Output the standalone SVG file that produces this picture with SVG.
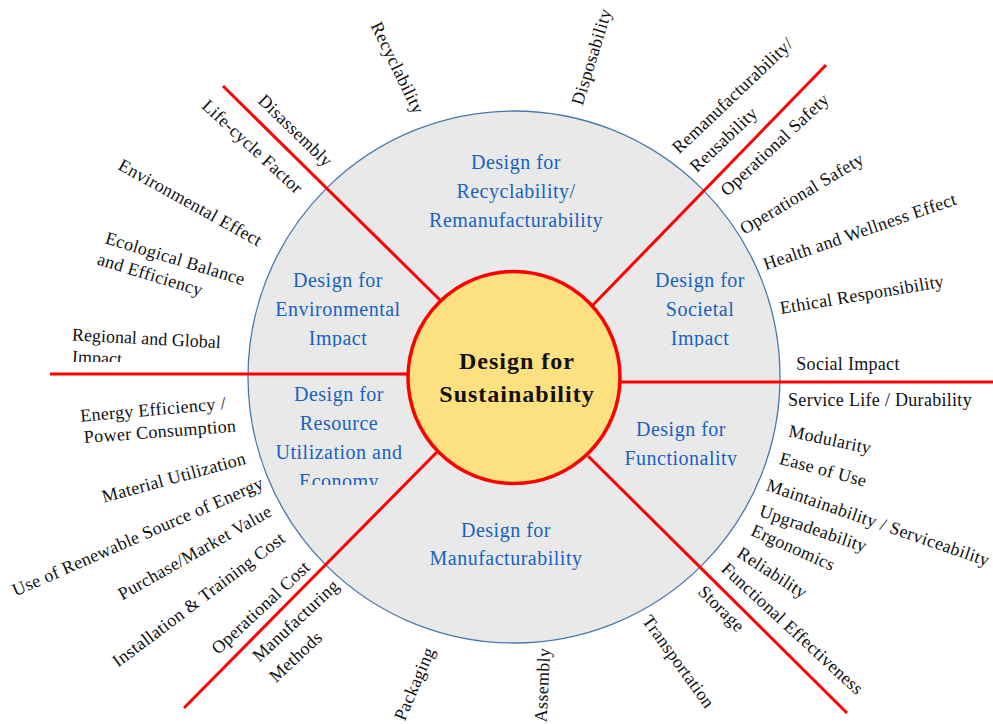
<svg xmlns="http://www.w3.org/2000/svg" width="993" height="724" viewBox="0 0 993 724">
<style>
.sec{font-family:"Liberation Serif","Times New Roman",serif;font-size:20px;letter-spacing:0.5px;fill:#1762c2;text-anchor:middle}
.hub{font-family:"Liberation Serif","Times New Roman",serif;font-size:24px;font-weight:bold;letter-spacing:1px;fill:#111;text-anchor:middle}
.lb{font-family:"Liberation Serif","Times New Roman",serif;font-size:18px;letter-spacing:0.3px;fill:#111;text-anchor:middle}
.st{text-anchor:start}
.red{stroke:#ff0000;stroke-width:3;fill:none;stroke-linecap:butt}
</style>
<defs>
<clipPath id="cEnv"><rect x="240" y="240" width="200" height="107"/></clipPath>
<clipPath id="cSoc"><rect x="600" y="240" width="200" height="107"/></clipPath>
<clipPath id="cRes"><rect x="240" y="370" width="200" height="115"/></clipPath>
<clipPath id="cFun"><rect x="600" y="400" width="200" height="66"/></clipPath>
<clipPath id="cReg"><rect x="40" y="300" width="220" height="62"/></clipPath>
</defs>
<rect width="993" height="724" fill="#ffffff"/>
<g id="ring"><circle cx="514" cy="377" r="266" fill="#e9e9e9" stroke="#4a78ad" stroke-width="1.3"/></g>
<g id="connectors">
<line class="red" x1="50" y1="374" x2="410" y2="374"/>
<line class="red" x1="618" y1="382" x2="993" y2="382"/>
<line class="red" x1="223" y1="86" x2="441" y2="301"/>
<line class="red" x1="826" y1="65" x2="592" y2="306"/>
<line class="red" x1="184" y1="708" x2="437" y2="452"/>
<line class="red" x1="588" y1="456" x2="847" y2="713"/>
</g>
<g id="hub">
<circle cx="514" cy="377.5" r="106" fill="#fde07f" stroke="#ff0000" stroke-width="3.5"/>
<text class="hub" x="517" y="369">Design for</text>
<text class="hub" x="517" y="402">Sustainability</text>
</g>
<g id="sec-recyclability">
<text class="sec" x="516" y="169">Design for</text>
<text class="sec" x="516" y="198">Recyclability/</text>
<text class="sec" x="516" y="227">Remanufacturability</text>
</g>
<g id="sec-environmental" clip-path="url(#cEnv)">
<text class="sec" x="338" y="287">Design for</text>
<text class="sec" x="338" y="316">Environmental</text>
<text class="sec" x="338" y="345">Impact</text>
</g>
<g id="sec-societal" clip-path="url(#cSoc)">
<text class="sec" x="700" y="287">Design for</text>
<text class="sec" x="700" y="316">Societal</text>
<text class="sec" x="700" y="345">Impact</text>
</g>
<g id="sec-resource" clip-path="url(#cRes)">
<text class="sec" x="339" y="401">Design for</text>
<text class="sec" x="339" y="430">Resource</text>
<text class="sec" x="339" y="459">Utilization and</text>
<text class="sec" x="339" y="488">Economy</text>
</g>
<g id="sec-functionality" clip-path="url(#cFun)">
<text class="sec" x="681" y="436">Design for</text>
<text class="sec" x="681" y="465">Functionality</text>
</g>
<g id="sec-manufacturability">
<text class="sec" x="506" y="537">Design for</text>
<text class="sec" x="506" y="565">Manufacturability</text>
</g>
<g id="labels">
<text class="lb" dy="0.3em" transform="translate(397,68) rotate(64)">Recyclability</text>
<text class="lb" dy="0.3em" transform="translate(592,57) rotate(-73)">Disposability</text>
<text class="lb" dy="0.3em" transform="translate(733,96) rotate(-43.5)">Remanufacturability/</text>
<text class="lb" dy="0.3em" transform="translate(724,140) rotate(-43.5)">Reusability</text>
<text class="lb" dy="0.3em" transform="translate(775,145) rotate(-43)">Operational Safety</text>
<text class="lb" dy="0.3em" transform="translate(802,194) rotate(-31)">Operational Safety</text>
<text class="lb" dy="0.3em" transform="translate(860,232) rotate(-19)">Health and Wellness Effect</text>
<text class="lb" dy="0.3em" transform="translate(862,295) rotate(-9.5)">Ethical Responsibility</text>
<text class="lb" dy="0.3em" transform="translate(848,365)">Social Impact</text>
<text class="lb" dy="0.3em" transform="translate(880,401)">Service Life / Durability</text>
<text class="lb" dy="0.3em" transform="translate(830,440) rotate(12)">Modularity</text>
<text class="lb" dy="0.3em" transform="translate(823,470) rotate(15)">Ease of Use</text>
<text class="lb st" dy="0.3em" transform="translate(767,485) rotate(19)">Maintainability / Serviceability</text>
<text class="lb" dy="0.3em" transform="translate(813,529) rotate(19)">Upgradeability</text>
<text class="lb" dy="0.3em" transform="translate(793,548) rotate(24)">Ergonomics</text>
<text class="lb" dy="0.3em" transform="translate(772,573) rotate(33)">Reliability</text>
<text class="lb" dy="0.3em" transform="translate(792,629) rotate(42.6)">Functional Effectiveness</text>
<text class="lb" dy="0.3em" transform="translate(721,609) rotate(45)">Storage</text>
<text class="lb" dy="0.3em" transform="translate(678,662) rotate(54)">Transportation</text>
<text class="lb" dy="0.3em" transform="translate(543,685) rotate(-87)">Assembly</text>
<text class="lb" dy="0.3em" transform="translate(415,684) rotate(-67)">Packaging</text>
<text class="lb" dy="0.3em" transform="translate(296,621) rotate(-43)">Manufacturing</text>
<text class="lb" dy="0.3em" transform="translate(296,657) rotate(-43)">Methods</text>
<text class="lb" dy="0.3em" transform="translate(261,608) rotate(-43)">Operational Cost</text>
<text class="lb" dy="0.3em" transform="translate(199,600) rotate(-37)">Installation &amp; Training Cost</text>
<text class="lb" dy="0.3em" transform="translate(195,553) rotate(-29.5)">Purchase/Market Value</text>
<text class="lb" dy="0.3em" transform="translate(138,537) rotate(-23.6)">Use of Renewable Source of Energy</text>
<text class="lb" dy="0.3em" transform="translate(174,478) rotate(-15.3)">Material Utilization</text>
<text class="lb" dy="0.3em" transform="translate(153,410) rotate(-5)">Energy Efficiency /</text>
<text class="lb" dy="0.3em" transform="translate(160,432) rotate(-4.3)">Power Consumption</text>
<g clip-path="url(#cReg)">
<text class="lb st" dy="0.3em" style="letter-spacing:0" transform="translate(72,335) rotate(3)">Regional and Global</text>
<text class="lb st" dy="0.3em" style="letter-spacing:0" transform="translate(72,357) rotate(3)">Impact</text>
</g>
<text class="lb" dy="0.3em" transform="translate(175,259) rotate(17)">Ecological Balance</text>
<text class="lb" dy="0.3em" transform="translate(150,275) rotate(17)">and Efficiency</text>
<text class="lb" dy="0.3em" transform="translate(190,203) rotate(29)">Environmental Effect</text>
<text class="lb" dy="0.3em" transform="translate(252,147) rotate(42.6)">Life-cycle Factor</text>
<text class="lb" dy="0.3em" transform="translate(295,131) rotate(44)">Disassembly</text>
</g>
</svg>
